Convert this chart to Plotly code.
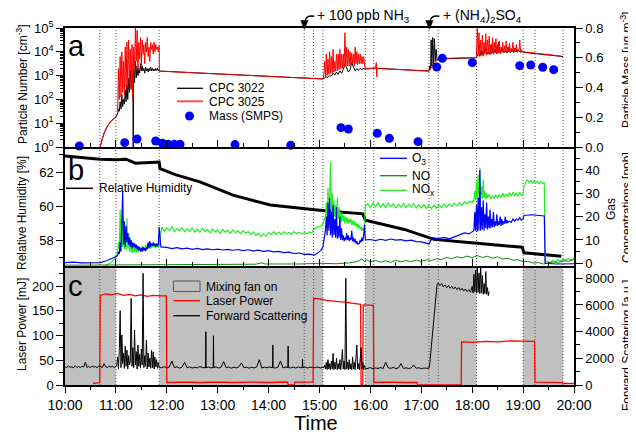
import pandas as pd
import plotly.graph_objects as go

BASE = pd.Timestamp("2000-01-01 10:00")

# ---------------- data (times in minutes after 10:00) ----------------
# event times (dotted lines) and mixing-fan periods
event_t = [41, 60, 111, 282, 293, 304, 354, 364, 429, 440, 485, 540, 554, 587]
fan_start = [0, 111, 354, 540]
fan_end = [60, 304, 485, 587]

# panel a: CPC 3025 (red)
cpc25_t = ([41.3, 43.6, 46, 50.7, 55.4, 60, 62] + list(range(63, 112)) +
           [111.3, 150, 200, 250, 300, 304] + list(range(305, 355)) +
           [366, 367, 367.5, 368, 429, 437, 441, 485] + list(range(486, 541)) + [560, 585])
cpc25_v = ([1, 2, 3.8, 8.3, 13.5, 18, 25] +
           [2000, 100, 6300, 126, 10000, 200, 4000, 158, 15800, 316, 25100, 398, 31600, 631, 12600, 251, 20000, 100, 15800,
            2000, 100000, 4000, 79400, 1580, 25100, 5000, 39800, 2510, 31600, 7940, 20000, 3160, 25100, 10000, 39800,
            6310, 15800, 3980, 25100, 12600, 20000, 7940, 25100, 10000, 20000, 12600, 15800, 10000, 17800] +
           [1550, 1320, 1070, 850, 724, 724] +
           [1000, 3980, 890, 7940, 1000, 5010, 1120, 10000, 1260, 6310, 1260, 12600, 1410, 3980, 1580, 7940, 1580, 7940,
            1780, 12600, 2000, 7940, 2000, 7940, 2240, 63100, 2510, 15800, 2510, 12600, 2510, 10000, 2820, 8900, 3160,
            7940, 2510, 15800, 3160, 10000, 2820, 7940, 3160, 7940, 3160, 6310, 3160, 6310, 3160, 2000] +
           [2050, 3550, 890, 2000, 1550, 3800, 5250, 5750] +
           [100000, 7080, 63100, 6310, 31600, 7080, 50100, 6610, 25100, 7940,
            56200, 7080, 31600, 7940, 44700, 7590, 20000, 8320, 39800, 7940,
            25100, 8910, 35500, 8320, 20000, 8910, 28200, 8910, 15800, 9330,
            25100, 8910, 17800, 9550, 28200, 9330, 15800, 10000, 22400, 9550,
            14100, 10000, 25100, 10000, 14100, 10000, 20000, 10000, 12600, 10500,
            31600, 10000, 12600, 10000, 10000] + [8510, 6610])

# panel a: CPC 3022 (black)
cpc22_t = ([41.3, 43.6, 46, 50.7, 55.4, 60, 62] + list(range(63, 81)) + [80.4, 80.6] + list(range(81, 112)) +
           [111.3, 150, 200, 250, 300, 304] + list(range(306, 355, 2)) +
           [366, 429, 430, 431, 431.6, 432.5, 433.5, 434.5, 435.5, 436.5, 437.5, 438.5, 440, 485] +
           list(range(487, 540, 2)) + [540, 587])
cpc22_v = ([1, 2, 3.8, 8.3, 13.5, 18, 25] +
           [40, 32, 79, 40, 158, 50, 100, 63, 251, 79, 398, 100, 794, 200, 1580, 316, 1000, 631] + [1, 400] +
           [2000, 501, 3980, 794, 2510, 1000, 2000, 1260, 3160, 1580,
            2510, 1580, 2000, 1260, 2240, 1580, 2000, 1410, 2000, 1580,
            2240, 1580, 2000, 1580, 1900, 1580, 2000, 1660, 2000, 1580, 1780] +
           [1550, 1320, 1070, 850, 724, 724] +
           [794, 890, 830, 1000, 955, 1260, 1050, 1410, 1120, 1580, 1260, 1780, 3160, 2000, 1410, 1780, 3550, 2240,
            1580, 2000, 1660, 2000, 1780, 2000, 1900] +
           [2050, 1550, 2510, 2000, 31600, 2510, 39800, 3160, 35500, 3980, 12600, 4470, 5010, 5620] +
           [7940, 6610, 12600, 7080, 15800, 7590, 10000, 7940, 20000, 7940, 12600, 8320, 25100, 8510, 14100, 8910,
            11200, 8910, 15800, 9120, 12600, 9330, 14100, 9550, 11200, 9550, 10500] + [9550, 6300])

# panel a: SMPS mass
mass_t = [16.9, 70.4, 84.9, 106.9, 114.7, 121.8, 128.8, 135.6, 200.4, 266.1, 325.3, 334, 368.1, 382.3, 416.1,
          438.2, 444.8, 480.1, 536, 549, 563.1, 576.1]
mass_v = [0.007, 0.029, 0.054, 0.040, 0.025, 0.018, 0.018, 0.018, 0.016, 0.011, 0.130, 0.121, 0.092, 0.058, 0.036,
          0.538, 0.596, 0.567, 0.547, 0.551, 0.536, 0.520]

# panel b: relative humidity
rh_t = [0, 15, 30, 41, 60, 72, 83, 100, 111, 112, 130, 159, 198, 242, 277, 300, 351, 354, 400, 435, 479, 539, 541, 585]
rh_v = [62.93, 62.85, 62.8, 62.74, 62.72, 62.75, 62.52, 62.55, 62.58, 62.2, 61.85, 61.43, 60.66, 60.08, 59.88,
        59.78, 59.57, 59.2, 58.66, 58.08, 57.88, 57.62, 57.3, 57.1]

# panel b: O3
o3_t = ([0, 10, 20, 30, 41, 49, 60] + list(range(61, 114)) + list(range(120, 301, 6)) + [302] +
        list(range(304, 356)) +
        [360, 366, 372, 378, 384, 390, 396, 402, 408, 414, 420, 426, 429, 433, 440, 447, 453, 459, 465, 471, 476, 480] +
        list(range(482, 523)) + list(range(524, 541, 2)) + [541, 550, 560, 565, 566, 580, 600])
o3_v = ([0.3, 0.5, 0.2, 0.4, 0.3, 1.1, 2.6] +
        [3.0, 3.5, 5, 4, 9, 5, 14, 30.7, 8, 18, 7, 16, 9, 13, 8, 11, 7, 10, 6.5, 9,
         7, 8.5, 6.5, 8, 6, 7.5, 5.5, 7, 5, 6.5, 5, 7, 5.5, 6.5, 5.2, 6.8, 6, 9, 6.5, 9.5,
         7, 8.5, 7.5, 9, 7.5, 8.5, 7, 8.5, 7.5, 8, 15.5, 8, 7] +
        [6.8, 6.3, 6.7, 6.2, 6.5, 6.0, 6.4, 5.9, 6.2, 5.8, 6.1, 5.7, 6.0, 5.6, 5.9, 5.4, 5.8, 5.3, 5.6, 5.1,
         5.4, 4.9, 5.1, 4.6, 4.8, 4.2, 4.4, 3.8, 3.9, 3.5, 5.0] + [5.7] +
        [7, 9, 11, 14, 20, 12, 26, 14, 28, 12, 22, 11, 25, 12, 19, 11, 24, 10.5, 16, 11,
         20, 10, 15, 10, 12, 9.5, 11, 9.8, 13, 10, 12, 9.5, 11, 10, 14, 9.5, 11, 9, 10.5, 8.5,
         9.5, 8, 8.5, 8.5, 10, 9, 11, 9.5, 12, 16.5, 10.5, 10] +
        [10.2, 9.7, 10.3, 9.8, 10.4, 9.9, 10.1, 9.6, 9.9, 9.3, 9.2, 8.6, 8.3, 11.0, 10.6, 11.1, 10.5, 11.3, 12.0,
         13.0, 12.6, 13.7] +
        [14, 22, 14, 25, 13.5, 28, 14, 40, 14, 24, 14.5, 27, 14, 21, 15, 26, 14.5, 20, 15, 23,
         15, 19, 15.5, 22, 15.5, 18, 16, 21, 16, 18, 16.5, 20, 16, 19, 16.5, 18, 17, 20, 17, 18.5, 17.5] +
        [18, 17.5, 19, 18, 19, 18.5, 19.5, 18.5, 19] + [20.5, 20.8, 20.5, 20.3, 0, -0.3, -0.2])

# panel b: NOx
nox_t = ([0, 44, 48, 55, 60] + list(range(61, 112)) + list(range(114, 292, 3)) + [293, 297, 300, 303, 305, 307] +
         list(range(308, 355)) + list(range(357, 481, 3)) + list(range(481, 499)) + list(range(500, 541, 2)) +
         list(range(541, 566, 2)) + [566] + list(range(569, 597, 3)) + [600])
nox_v = ([-3, -3, -1, 0.5, 2.6] +
         [3.5, 5, 9, 6, 22.8, 8, 19, 7, 17.9, 6, 15, 5.5, 19.3, 6.5, 13, 5, 11, 4.5, 8, 4.3,
          7.5, 5, 7, 4.5, 6.5, 4.8, 7, 5, 6.5, 5.5, 7.5, 5.2, 6.8, 5.5, 7.8, 6, 8.3, 6.5, 8, 6.2,
          8.5, 6.5, 8, 6.8, 8.3, 6.5, 8, 7, 8.2, 6.8, 7.5] +
         [15.5, 13.8, 15.2, 14.0, 15.6, 13.6, 14.9, 13.9, 15.3, 13.5, 14.8, 13.7, 15.1, 13.4, 14.6, 13.2, 15.0, 13.6,
          14.4, 13.0, 14.7, 13.4, 14.2, 12.8, 14.5, 13.3, 14.1, 12.9, 14.3, 13.1, 13.9, 12.7, 14.0, 13.0, 13.6, 12.4,
          13.5, 12.0, 12.9, 11.4, 12.5, 11.6, 13.2, 12.4, 13.6, 12.5, 13.4, 12.3, 13.5, 12.6, 13.3, 12.4, 13.6, 12.7,
          13.3, 12.5, 13.2, 12.6, 13.4, 13.0] +
         [14.3, 15.5, 15.7, 16.0, 18, 20] +
         [26, 19, 32.4, 20, 29.5, 43.5, 21, 30, 19, 27, 20, 25, 18.5, 28, 19, 24, 18, 22, 17.5, 21,
          18, 20.5, 17, 20, 17.5, 19.5, 17, 19, 17.5, 19, 16.5, 18.5, 16.5, 18, 16, 17.5, 15.5, 17, 15, 16.5,
          14.5, 15.5, 14, 15, 14.3, 14.5, 24.3] +
         [25.5, 23.8, 25.9, 24.2, 26.0, 24.0, 25.6, 23.9, 25.8, 24.3, 25.5, 23.7, 25.2, 24.1, 25.7, 23.9, 25.3, 24.0,
          25.6, 23.6, 25.0, 23.8, 25.2, 23.5, 24.8, 23.4, 24.9, 23.6, 25.0, 23.8, 25.3, 24.1, 25.5, 24.3, 25.8, 24.6,
          26.0, 24.9, 26.3, 25.4, 26.6, 25.9] +
         [27, 26.5, 31, 27, 35, 27.5, 38, 28, 41, 28, 33, 27.5, 36, 28, 31, 27.5, 30, 28] +
         [29.5, 27.5, 29, 27.8, 29.3, 28, 29.5, 28.2, 30, 28.3, 29.8, 28.5, 30.2, 28.7, 30.5, 29, 30, 28.8, 30.4,
          29.2, 30] +
         [33, 34.2, 35.8, 34.5, 35.5, 34.3, 35.3, 34.6, 35.2, 34.0, 35.0, 34.1, 34.6] + [0.5] +
         [0.8, 0.3, 1.2, 0.6, 1.5, 0.9, 1.8, 1.1, 2.0, 1.4] + [2.2])

# panel b: NO
no_t = [0, 60, 120, 200, 225, 232, 236, 277, 300, 320, 335, 345, 350, 353, 356, 360, 366, 372, 378, 384,
        390, 396, 402, 408, 414, 420, 426, 432, 438, 444, 450, 456, 462, 468, 474, 480, 486, 492, 498, 504,
        510, 516, 522, 528, 534, 540, 546, 552, 558, 564, 570, 576, 582, 588, 594, 600]
no_v = [-0.8, -0.7, -0.8, -0.6, -0.4, 0.2, -0.3, -0.3, 0.0, -0.2, 0.2, 0.8, 1.8, 0.9, 1.5, 0.6, 1.2, 0.5, 1.1, 0.4,
        1.3, 0.6, 1.2, 0.7, 1.4, 0.8, 1.5, 1.2, 2.0, 1.6, 2.5, 2.0, 2.8, 2.3, 3.1, 2.4, 3.3, 2.5, 3.0, 2.2,
        2.8, 1.8, 2.2, 1.3, 1.5, 0.7, 0.8, 0.1, 0.3, -0.3, 0.3, 0.6, 0.4, 1.1, 0.9, 1.6]

# panel c: laser power
laser_t = [33, 40, 41, 41.5, 48, 55, 62, 69, 76, 83, 90, 97, 104, 111, 119.5, 120, 140, 160, 180, 200, 220, 240,
           262.5, 263, 270.5, 271, 280, 292.5, 293, 300, 308, 316, 324, 332, 340, 348.5, 349, 351, 351.5, 358,
           363.5, 364, 380, 400, 415, 415.5, 467, 467.5, 480, 495, 510, 525, 540, 553.5, 554, 570, 586.5, 587, 600]
laser_v = [3, 4, 5, 181, 184, 182, 185, 181, 183, 180, 182, 179, 181, 180, 180, 5, 6, 5, 6, 5, 6, 5,
           6, 0, 0, 6, 6, 6, 175, 174, 171, 170, 168, 167, 165, 163, 0, 0, 162, 162,
           161, 5, 6, 5, 5, 0, 0, 87, 86, 88, 87, 89, 88, 88, 6, 6, 5, 3, 3]

# panel c: forward scattering
fs_t = (list(range(0, 61, 2)) + list(range(61, 112)) +
        [114, 117, 120, 123, 126, 129, 132, 135, 138, 141, 144, 147, 150, 153, 156, 159, 162, 165.7, 166, 166.3,
         169, 172, 174.7, 175, 175.3, 178, 181, 184, 187, 190, 193, 196, 199, 202, 205, 208, 211, 214, 217, 220,
         223, 226, 229, 232, 235, 238, 241, 244.7, 245, 245.3, 248, 251, 254, 257, 260, 262.7, 263, 263.3, 266,
         269, 272, 275, 278, 279.7, 280, 280.3, 283, 286, 289, 292] +
        [295, 298, 301, 304] + list(range(305, 355)) + list(range(357, 428, 3)) +
        [429, 430, 432, 434, 435.5, 437, 438.5] + list(range(440, 480, 2)) + list(range(480, 501)))
fs_v = ([1380, 1300, 1420, 1330, 1360, 1290, 1450, 1320, 1380, 1310, 1400, 1350, 1700, 1320, 1390, 1300, 1420,
         1340, 1380, 1290, 1450, 1350, 1320, 1600, 1370, 1300, 1420, 1350, 1400, 1310, 1380] +
        [1500, 2100, 1200, 2600, 5570, 1300, 3750, 1600, 2400, 1250, 2900, 1400, 2620, 1200, 2200, 1500, 1800,
         6490, 1400, 2800, 1300, 4120, 1500, 2500, 1200, 3000, 1400, 2300, 1300, 2700, 1500, 8370, 1300, 2200,
         1400, 3370, 1200, 2400, 1350, 2000, 1250, 2600, 1300, 2490, 1200, 2100, 1350, 1900, 1250, 1700, 1300] +
        [1300, 1380, 1280, 1350, 1800, 1300, 1370, 1260, 1340, 1700, 1290, 1360, 1270, 1330, 1280, 1390, 1300,
         1300, 3990, 1300, 1350, 1280, 1300, 3690, 1300,
         1360, 1270, 1340, 1750, 1290, 1350, 1260, 1330, 1280, 1370, 1650, 1290, 1340, 1260, 1330, 1280, 1360,
         1900, 1270, 1340, 1290, 1350, 1300, 3000, 1300, 1270, 1340, 1800, 1280, 1350, 1300, 2920, 1300,
         1280, 1340, 1270, 1360, 1290, 1300, 1920, 1300, 1350, 1270, 1330, 1290] +
        [1300, 1350, 1280, 1320] +
        [1300, 1500, 1200, 1700, 1150, 1900, 1200, 1600, 1150, 1800, 1200, 2370, 1150, 1700, 1200, 2000, 1150,
         1600, 1200, 1900, 1150, 1700, 2670, 1200, 1800, 1150, 8000, 1200, 1700, 1150, 1900, 1200, 1600, 1150,
         2100, 1200, 1700, 1150, 1800, 3000, 1200, 1600, 1150, 1900, 2800, 1200, 1700, 1150, 1500, 1200] +
        [1250, 1300, 1220, 1280, 1240, 1310, 1230, 1700, 1290, 1250, 1320, 1230, 1280, 1600, 1240, 1290, 1230,
         1280, 1500, 1250, 1300, 1220, 1270, 1240] +
        [1250, 1600, 3000, 4300, 5600, 6800, 7500] +
        [7650, 7450, 7600, 7350, 7500, 7300, 7450, 7250, 7400, 7200, 7350, 7150, 7300, 7100, 7250, 7050, 7200,
         7000, 7150, 6950] +
        [7400, 6900, 8300, 7000, 8600, 6900, 8800, 6950, 8400, 6850, 9000, 6900, 8200, 6800, 7600, 6850, 8500,
         6800, 7300, 6700, 7000])

for a, b in [(cpc25_t, cpc25_v), (cpc22_t, cpc22_v), (mass_t, mass_v), (rh_t, rh_v), (o3_t, o3_v),
             (nox_t, nox_v), (no_t, no_v), (laser_t, laser_v), (fs_t, fs_v)]:
    assert len(a) == len(b), (len(a), len(b))


def T(mins):
    return [BASE + pd.Timedelta(minutes=float(m)) for m in mins]


# ---------------- geometry helpers (page pixel -> paper) ----------------
def xp(px):
    return (px - 65) / 509.0


def yp(py):
    return (385 - py) / 357.0


FONT = "Liberation Sans, Arial, sans-serif"
RED = "#ff0000"
BLUE = "#0000ff"
LGREEN = "#22ee22"
DGREEN = "#118811"

fig = go.Figure()
# panel c
fig.add_trace(go.Scatter(x=T(laser_t), y=laser_v, mode="lines", line=dict(color=RED, width=1.3),
                         xaxis="x", yaxis="y", showlegend=False))
fig.add_trace(go.Scatter(x=T(fs_t), y=fs_v, mode="lines", line=dict(color="black", width=1),
                         xaxis="x", yaxis="y2", showlegend=False))
# panel b
fig.add_trace(go.Scatter(x=T(rh_t), y=rh_v, mode="lines", line=dict(color="black", width=3),
                         xaxis="x2", yaxis="y3", showlegend=False))
fig.add_trace(go.Scatter(x=T(nox_t), y=nox_v, mode="lines", line=dict(color=LGREEN, width=1.2),
                         xaxis="x2", yaxis="y4", showlegend=False))
fig.add_trace(go.Scatter(x=T(no_t), y=no_v, mode="lines", line=dict(color=DGREEN, width=1),
                         xaxis="x2", yaxis="y4", showlegend=False))
fig.add_trace(go.Scatter(x=T(o3_t), y=o3_v, mode="lines", line=dict(color=BLUE, width=1.2),
                         xaxis="x2", yaxis="y4", showlegend=False))
# panel a
fig.add_trace(go.Scatter(x=T(cpc22_t), y=cpc22_v, mode="lines", line=dict(color="black", width=1),
                         xaxis="x3", yaxis="y5", showlegend=False))
fig.add_trace(go.Scatter(x=T(cpc25_t), y=cpc25_v, mode="lines", line=dict(color=RED, width=1),
                         xaxis="x3", yaxis="y5", showlegend=False))
fig.add_trace(go.Scatter(x=T(mass_t), y=mass_v, mode="markers", marker=dict(color=BLUE, size=9),
                         cliponaxis=False, xaxis="x3", yaxis="y6", showlegend=False))

x_range = [BASE, BASE + pd.Timedelta(hours=10)]
ax = dict(showline=True, linecolor="black", linewidth=1.5, showgrid=False, zeroline=False,
          tickcolor="black", tickwidth=1.2, tickfont=dict(size=13, color="black", family=FONT))
xcommon = dict(ax, type="date", range=x_range, tick0=BASE, dtick=3600000, tickformat="%H:%M")

shapes = []
for s, e in zip(fan_start, fan_end):
    shapes.append(dict(type="rect", xref="x", yref="y domain", x0=T([s])[0], x1=T([e])[0], y0=0, y1=1,
                       fillcolor="#c0c0c0", line=dict(width=0), layer="below"))
for t in event_t:
    shapes.append(dict(type="line", xref="x", yref="paper", x0=T([t])[0], x1=T([t])[0], y0=0, y1=1,
                       line=dict(color="#555555", width=1, dash="1px,2px"), layer="below"))


def add_line(x0, x1, y, color, width=1.3):
    shapes.append(dict(type="line", xref="paper", yref="paper", x0=xp(x0), x1=xp(x1), y0=yp(y), y1=yp(y),
                       line=dict(color=color, width=width)))


# legend keys
add_line(177, 203, 88.3, "black")
add_line(177, 203, 101.3, "#ff5050", 2)
shapes.append(dict(type="circle", xref="paper", yref="paper", x0=xp(185), x1=xp(194), y0=yp(111.5), y1=yp(120.5),
                   fillcolor=BLUE, line=dict(width=0)))
add_line(66, 93, 188.3, "black", 1.5)
add_line(380, 407, 158.3, BLUE)
add_line(380, 407, 175.7, DGREEN)
add_line(380, 407, 190.3, LGREEN)
shapes.append(dict(type="rect", xref="paper", yref="paper", x0=xp(173.5), x1=xp(200), y0=yp(291.5), y1=yp(281),
                   fillcolor="#c0c0c0", line=dict(color="#555555", width=1)))
add_line(173.5, 200, 300.7, RED)
add_line(173.5, 200, 315.7, "black")

# curved arrows
for X in [304.3, 429.3]:
    shapes.append(dict(type="path", xref="paper", yref="paper",
                       path=f"M {xp(X + 10)},{yp(16.3)} Q {xp(X + 1.5)},{yp(14.5)} {xp(X + 0.4)},{yp(22)}",
                       line=dict(color="black", width=1.5)))
    shapes.append(dict(type="path", xref="paper", yref="paper",
                       path=f"M {xp(X - 3.6)},{yp(20.5)} L {xp(X + 3.8)},{yp(20.5)} L {xp(X + 0.1)},{yp(29.3)} Z",
                       fillcolor="black", line=dict(color="black", width=0.5)))

ann = []


def text(x, y, s, size=12, anchor="left", angle=0):
    ann.append(dict(x=xp(x), y=yp(y), xref="paper", yref="paper", text=s, showarrow=False, xanchor=anchor,
                    yanchor="middle", textangle=angle, font=dict(size=size, color="black", family=FONT)))


text(207, 88.5, "CPC 3022")
text(207, 101.8, "CPC 3025")
text(207, 116.2, "Mass (SMPS)")
text(96.5, 188.5, "Relative Humidity")
text(410, 158.5, "O<sub>3</sub>")
text(410, 175.8, "NO")
text(410, 190.3, "NO<sub>x</sub>")
text(203.5, 286.5, "Mixing fan on")
text(203.5, 301, "Laser Power")
text(203.5, 316, "Forward Scattering")
text(66, 45.5, "a", 29)
text(66, 169.5, "b", 29)
text(66, 285.5, "c", 29)
text(315, 16.5, "+ 100 ppb NH<sub>3</sub>", 14)
text(441, 16.5, "+ (NH<sub>4</sub>)<sub>2</sub>SO<sub>4</sub>", 14)
text(22, 84, "Particle Number [cm<sup>-3</sup>]", 12, "center", -90)
text(22, 213, "Relative Humidity [%]", 12, "center", -90)
text(22, 325, "Laser Power [mJ]", 12, "center", -90)
text(626, 70, "Particle Mass [µg m<sup>-3</sup>]", 12, "center", -90)
text(611, 209, "Gas", 12, "center", -90)
text(627, 208, "Concentrations [ppb]", 12, "center", -90)
text(627, 346, "Forward Scattering [a.u.]", 12, "center", -90)
text(316, 423, "Time", 20, "center")

log_minor = [k * 10 ** e for e in range(5) for k in range(2, 10)]

# The page body has an 8px margin, so the figure is 8px smaller and its margins shifted by 8px.
fig.update_layout(
    width=628, height=427, autosize=False,
    margin=dict(l=57, r=62, t=20, b=50, pad=0),
    paper_bgcolor="white", plot_bgcolor="rgba(0,0,0,0)",
    font=dict(family=FONT, color="black"),
    showlegend=False,
    xaxis=dict(xcommon, anchor="y", domain=[0, 1], ticks="outside", ticklen=6,
               tickfont=dict(size=14, color="black", family=FONT),
               minor=dict(dtick=1800000, tick0=BASE, ticks="outside", ticklen=3, tickcolor="black", tickwidth=1.2)),
    xaxis2=dict(xcommon, anchor="y3", matches="x", ticks="inside", ticklen=7, showticklabels=False,
                minor=dict(dtick=1800000, tick0=BASE, ticks="inside", ticklen=4, tickcolor="black", tickwidth=1.2)),
    xaxis3=dict(xcommon, anchor="y5", matches="x", ticks="inside", ticklen=7, showticklabels=False, mirror=True,
                minor=dict(dtick=1800000, tick0=BASE, ticks="inside", ticklen=4, tickcolor="black", tickwidth=1.2)),
    yaxis=dict(ax, domain=[0, 1 / 3], anchor="x", range=[0, 240.4], tickvals=[0, 50, 100, 150, 200],
               ticks="outside", ticklen=7,
               minor=dict(tickvals=[25, 75, 125, 175, 225], ticks="outside", ticklen=4, tickcolor="black")),
    yaxis2=dict(ax, overlaying="y", side="right", anchor="x", range=[0, 8921],
                tickvals=[0, 2000, 4000, 6000, 8000], ticks="outside", ticklen=7,
                minor=dict(tickvals=[1000, 3000, 5000, 7000], ticks="outside", ticklen=4, tickcolor="black")),
    yaxis3=dict(ax, domain=[1 / 3, 2 / 3], anchor="x2", range=[56.53, 63.46], tickvals=[58, 60, 62],
                ticks="outside", ticklen=7,
                minor=dict(tickvals=[57, 59, 61, 63], ticks="outside", ticklen=4, tickcolor="black")),
    yaxis4=dict(ax, overlaying="y3", side="right", anchor="x2", range=[-1.16, 49.85],
                tickvals=[0, 10, 20, 30, 40], ticks="outside", ticklen=7,
                minor=dict(tickvals=[5, 15, 25, 35, 45], ticks="outside", ticklen=4, tickcolor="black")),
    yaxis5=dict(ax, domain=[2 / 3, 1], anchor="x3", type="log", range=[0, 5],
                tickvals=[1, 10, 100, 1000, 10000, 100000],
                ticktext=["10<sup>0</sup>", "10<sup>1</sup>", "10<sup>2</sup>", "10<sup>3</sup>",
                          "10<sup>4</sup>", "10<sup>5</sup>"],
                ticks="outside", ticklen=7,
                minor=dict(tickvals=log_minor, ticks="outside", ticklen=3, tickcolor="black")),
    yaxis6=dict(ax, overlaying="y5", side="right", anchor="x3", range=[0, 0.8],
                tickvals=[0, 0.2, 0.4, 0.6, 0.8], ticktext=["0.0", "0.2", "0.4", "0.6", "0.8"],
                ticks="outside", ticklen=7,
                minor=dict(tickvals=[0.1, 0.3, 0.5, 0.7], ticks="outside", ticklen=4, tickcolor="black")),
    shapes=shapes,
    annotations=ann,
)

fig.write_html("out.html")
